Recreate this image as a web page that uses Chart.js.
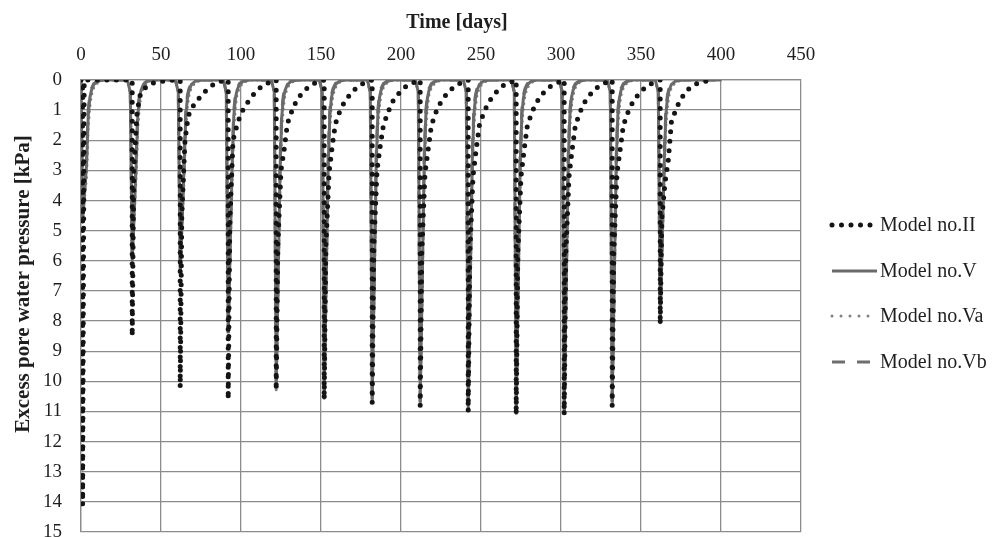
<!DOCTYPE html>
<html>
<head>
<meta charset="utf-8">
<script src="https://cdn.jsdelivr.net/npm/chart.js@4.4.1/dist/chart.umd.min.js"></script>
<style>
  html, body { margin: 0; padding: 0; background: #fff; }
</style>
</head>
<body>
<canvas id="poreChart" width="992" height="537"></canvas>
<script>
// load days (one load per month) and peak excess pore pressure per model [kPa]
const loadDays = [1, 32, 62, 92, 122, 152, 182, 212, 242, 272, 302, 332, 362];
const peakII = [14.1, 8.5, 10.2, 10.6, 10.3, 10.6, 10.7, 10.8, 11.0, 11.1, 11.1, 10.8, 8.1];
const peakV  = [4.7, 6.0, 6.4, 8.4, 10.2, 10.5, 10.6, 10.7, 10.9, 11.0, 11.0, 10.7, 8.0];
const peakVa = [4.6, 5.9, 6.3, 8.3, 10.3, 10.6, 10.7, 10.8, 11.0, 11.1, 11.1, 10.8, 8.1];
const peakVb = [4.7, 6.0, 6.4, 8.4, 10.2, 10.5, 10.6, 10.7, 10.9, 11.0, 11.0, 10.7, 8.0];

// Model II dissipation after each load: days after load / kPa
const recDaysII = [1, 3, 5, 7, 10, 13, 17, 22, 28];
const recII = [
  [0, 0, 0, 0, 0, 0, 0, 0, 0],
  [3.0, 1.1, 0.5, 0.32, 0.17, 0.1, 0.05, 0.02, 0],
  [4.5, 2.0, 1.2, 0.95, 0.72, 0.53, 0.3, 0.1, 0],
  [4.8, 2.0, 1.6, 1.25, 0.9, 0.68, 0.4, 0.16, 0.03],
  [5.5, 3.0, 2.3, 1.45, 1.0, 0.65, 0.38, 0.15, 0.03],
  [5.6, 3.1, 2.2, 1.45, 1.0, 0.7, 0.42, 0.17, 0.04],
  [5.6, 3.0, 2.2, 1.5, 1.05, 0.7, 0.42, 0.17, 0.04],
  [5.7, 3.1, 2.3, 1.5, 1.05, 0.72, 0.43, 0.18, 0.04],
  [5.8, 3.2, 2.3, 1.5, 1.05, 0.72, 0.43, 0.18, 0.04],
  [5.8, 3.2, 2.3, 1.5, 1.05, 0.72, 0.43, 0.18, 0.04],
  [5.8, 3.2, 2.3, 1.5, 1.05, 0.72, 0.43, 0.18, 0.04],
  [5.7, 3.1, 2.3, 1.5, 1.05, 0.72, 0.43, 0.18, 0.04],
  [4.6, 3.4, 2.7, 1.4, 0.95, 0.62, 0.33, 0.14, 0.05]
];

// Models V, Va, Vb dissipate within a few days
const preDays = [-3, -1.2];
const preGrey = [0, 0.4];
const recDaysGrey = [2.5, 3.5, 4.5, 5.5, 7, 9.5, 13];
const recV  = [2.8, 1.2, 0.6, 0.35, 0.15, 0.04, 0];
const recVa = [3.2, 1.6, 0.9, 0.5, 0.25, 0.08, 0];
const recVb = [2.5, 1.0, 0.5, 0.28, 0.12, 0.03, 0];

const lastDayII = 395;
const lastDayGrey = 400;

const xTitle = 'Time [days]';
const yTitle = 'Excess pore water pressure [kPa]';

function buildSeries(peaks, recDays, rec, lastDay, pre) {
  const pts = [{x: 0, y: 0}];
  loadDays.forEach((d, i) => {
    if (pre) {
      pre.days.forEach((o, k) => { if (d + o > 0) pts.push({x: d + o, y: pre.vals[k]}); });
    } else {
      pts.push({x: d, y: 0});
    }
    pts.push({x: d, y: peaks[i]});
    const row = Array.isArray(rec[0]) ? rec[i] : rec;
    recDays.forEach((o, k) => pts.push({x: d + o, y: row[k]}));
  });
  pts.push({x: lastDay, y: 0});
  return pts;
}

const greyPre = {days: preDays, vals: preGrey};

// axis titles and legend placed where the original has them
const sideLegend = {
  id: 'sideLegend',
  afterDraw(chart) {
    const c = chart.ctx;
    const rows = [225, 271, 316, 362];
    c.save();
    chart.data.datasets.forEach((ds, i) => {
      const y = rows[i];
      c.beginPath();
      c.strokeStyle = ds.borderColor;
      c.lineWidth = ds.borderWidth;
      c.lineCap = ds.borderCapStyle || 'butt';
      c.setLineDash(ds.legendDash || ds.borderDash || []);
      c.moveTo(832, y);
      c.lineTo(877, y);
      c.stroke();
      c.setLineDash([]);
      c.fillStyle = '#1e1e1e';
      c.font = '20px "Liberation Serif"';
      c.textAlign = 'left';
      c.textBaseline = 'middle';
      c.fillText(ds.label, 880, y + 1);
    });

    c.fillStyle = '#1e1e1e';
    c.textAlign = 'center';
    c.textBaseline = 'middle';
    c.font = 'bold 20px "Liberation Serif"';
    c.fillText(xTitle, 457, 23);

    c.translate(24, 284);
    c.rotate(-Math.PI / 2);
    c.font = 'bold 21px "Liberation Serif"';
    c.fillText(yTitle, 0, 0);
    c.restore();
  }
};

const ctx = document.getElementById('poreChart').getContext('2d');
const poreChart = new Chart(ctx, {
  type: 'scatter',
  data: {
    datasets: [
      {
        label: 'Model no.II',
        data: buildSeries(peakII, recDaysII, recII, lastDayII),
        showLine: true,
        borderColor: '#141414',
        borderWidth: 5,
        borderDash: [0, 9.5],
        borderCapStyle: 'round',
        pointRadius: 0
      },
      {
        label: 'Model no.V',
        data: buildSeries(peakV, recDaysGrey, recV, lastDayGrey, greyPre),
        showLine: true,
        borderColor: '#6a6a6a',
        borderWidth: 3,
        pointRadius: 0
      },
      {
        label: 'Model no.Va',
        data: buildSeries(peakVa, recDaysGrey, recVa, lastDayGrey, greyPre),
        showLine: true,
        borderColor: '#808080',
        borderWidth: 3,
        borderDash: [0, 6],
        borderCapStyle: 'round',
        legendDash: [0, 9],
        pointRadius: 0
      },
      {
        label: 'Model no.Vb',
        data: buildSeries(peakVb, recDaysGrey, recVb, lastDayGrey, greyPre),
        showLine: true,
        borderColor: '#6e6e6e',
        borderWidth: 3,
        borderDash: [13, 12],
        pointRadius: 0
      }
    ]
  },
  options: {
    responsive: false,
    animation: false,
    devicePixelRatio: 1,
    layout: { padding: { left: 0, top: 0, right: 191, bottom: 5 } },
    plugins: {
      legend: { display: false },
      tooltip: { enabled: false }
    },
    scales: {
      x: {
        type: 'linear',
        position: 'top',
        min: 0,
        max: 450,
        afterFit: s => { s.height = 80; },
        ticks: {
          stepSize: 50,
          padding: 14,
          color: '#1e1e1e',
          font: { family: '"Liberation Serif"', size: 19 }
        },
        grid: { color: '#8c8c8c', lineWidth: 1.3, drawTicks: false },
        border: { color: '#8c8c8c', width: 1.3 }
      },
      y: {
        reverse: true,
        min: 0,
        max: 15,
        afterFit: s => {
          s.width = 81;
          s.paddingTop = 0;
          s.paddingBottom = 0;
        },
        ticks: {
          stepSize: 1,
          padding: 19,
          color: '#1e1e1e',
          font: { family: '"Liberation Serif"', size: 19 }
        },
        grid: { color: '#8c8c8c', lineWidth: 1.3, drawTicks: false },
        border: { color: '#8c8c8c', width: 1.3 }
      }
    }
  },
  plugins: [sideLegend]
});
</script>
</body>
</html>
